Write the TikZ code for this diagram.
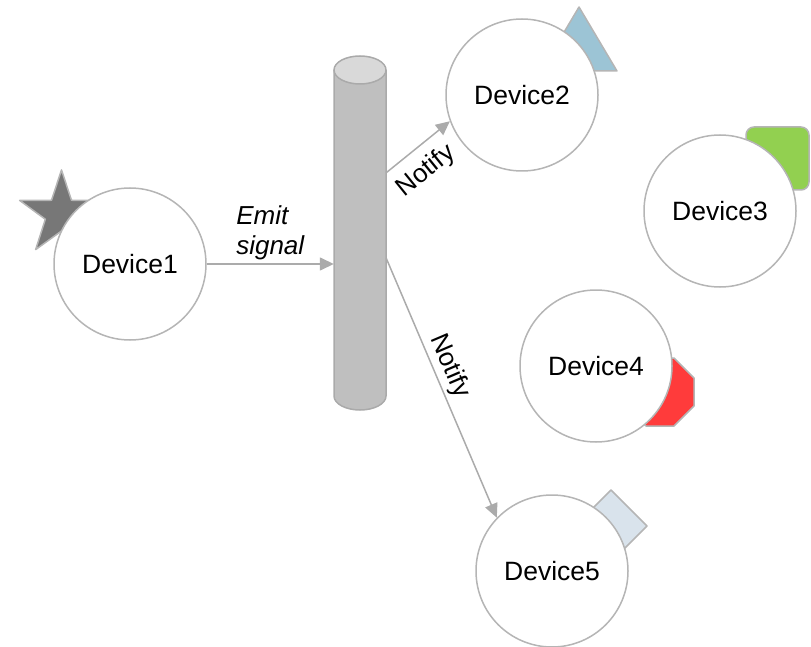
\documentclass[tikz,border=0pt]{standalone}
\usepackage{fontspec}
\setmainfont{Liberation Sans}
\usetikzlibrary{arrows.meta,calc}

\definecolor{edgegray}{HTML}{B5B5B5}
\definecolor{linkgray}{HTML}{ABABAB}
\definecolor{starfill}{HTML}{777777}
\definecolor{trifill}{HTML}{9CC4D5}
\definecolor{sqfill}{HTML}{92D050}
\definecolor{octfill}{HTML}{FF3B3B}
\definecolor{diafill}{HTML}{D9E3EC}
\definecolor{cylbody}{HTML}{BFBFBF}
\definecolor{cyltop}{HTML}{D9D9D9}
\definecolor{cyledge}{HTML}{AAAAAA}

\begin{document}
\begin{tikzpicture}[x=1pt,y=-1pt,
  device/.style={circle, draw=edgegray, line width=1.5pt, fill=white,
    minimum size=152pt, inner sep=0pt, font=\fontsize{26.5}{31}\selectfont},
  badge/.style={draw=edgegray, line width=1.5pt, line join=round},
  link/.style={draw=linkgray, line width=1.5pt,
    -{Triangle[length=14pt,width=13pt]}},
  tag/.style={font=\fontsize{26}{30}\selectfont, text=black},
  cylside/.style={draw=cyledge, line width=1.5pt}]

\useasboundingbox (0,0) rectangle (811,647);

% status badges, partly hidden behind the device circles
\draw[badge, fill=starfill, shift={(61.5,214)}]
  (-90:44) -- (-126:17) -- (-162:44) -- (-198:17) -- (-234:44) --
  (-270:17) -- (-306:44) -- (-342:17) -- (-18:44) -- (-54:17) -- cycle;
\draw[badge, fill=trifill] (579,7) -- (617,71) -- (541,71) -- cycle;
\draw[badge, fill=sqfill, rounded corners=8pt] (746,127) rectangle (809,190);
\draw[badge, fill=octfill]
  (694,378) -- (674,358) -- (646,358) -- (626,378) --
  (626,406) -- (646,426) -- (674,426) -- (694,406) -- cycle;
\draw[badge, fill=diafill] (611,490) -- (647,526) -- (611,562) -- (575,526) -- cycle;

% devices
\node[device] (dev1) at (130,264) {Device1};
\node[device] (dev2) at (522,95)  {Device2};
\node[device] (dev3) at (720,211) {Device3};
\node[device] (dev4) at (596,366) {Device4};
\node[device] (dev5) at (552,571) {Device5};

% signal bus drawn as a cylinder
\node[inner sep=0pt, minimum width=52pt, minimum height=354pt] (bus) at (360,233) {};
\fill[cylbody] (334,70) rectangle (386,396);
\fill[cylbody] (360,396) ellipse [x radius=26, y radius=14];
\draw[cylside] (334,70) -- (334,396)
  arc[start angle=180, end angle=0, x radius=26, y radius=14] -- (386,70);
\draw[cylside, fill=cyltop] (360,70) ellipse [x radius=26, y radius=14];

% connectors
\draw[link] (dev1.east) -- (dev1.east -| bus.west)
  node[midway, above, tag, align=left, inner sep=3.5pt] {\itshape Emit\\\itshape signal};
\draw[link] ($(bus.north east)!0.33!(bus.south east)$) -- (dev2.200)
  node[pos=0.39, sloped, below, tag, inner sep=11pt] {Notify};
\draw[link] ($(bus.north east)!0.571!(bus.south east)$) -- (dev5.136)
  node[pos=0.44, sloped, above, tag, inner sep=3pt] {Notify};

\end{tikzpicture}
\end{document}
